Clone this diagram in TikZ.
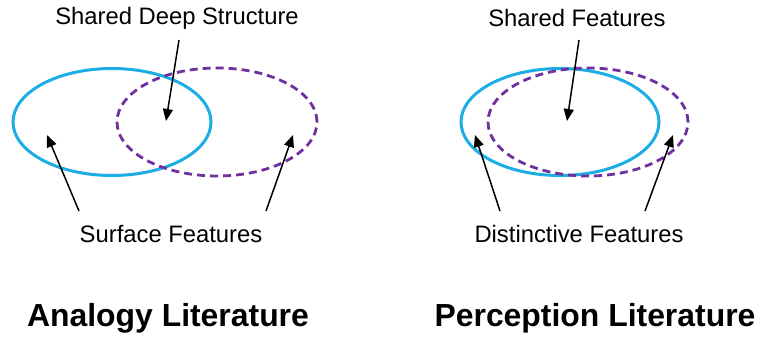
\documentclass[tikz,border=0pt]{standalone}
\usepackage{fontspec}
\setmainfont{Liberation Sans}
\usetikzlibrary{arrows.meta,positioning,shapes.geometric}
\definecolor{setblue}{HTML}{1BADE4}
\definecolor{setpurple}{HTML}{7030A0}

\begin{document}
\begin{tikzpicture}[
  x=1pt,y=-1pt,
  setA/.style={ellipse,draw=setblue,line width=3pt,minimum width=198pt,minimum height=107pt,inner sep=0pt},
  setB/.style={ellipse,draw=setpurple,line width=2.8pt,dash pattern=on 8pt off 5pt,minimum width=200pt,minimum height=108pt,inner sep=0pt},
  lbl/.style={font=\fontsize{23.8}{26}\selectfont,inner sep=0pt},
  title/.style={font=\fontsize{31.9}{35}\selectfont\bfseries,inner sep=0pt},
  arr/.style={-{Triangle[length=12pt,width=10pt]},line width=1.5pt,draw=black}
]
\useasboundingbox (0,0) rectangle (759,337);
% analogy side
\node[setA] (anaA) at (112,122) {};
\node[setB] (anaB) at (217,122) {};
\node[lbl] (deep) at (177,18) {Shared Deep Structure};
\node[lbl] (surface) at (171,234) {Surface Features};
\node[title] (anaT) at (168,318) {Analogy Literature};
\coordinate (deepSt) at (179,40);
\coordinate (deepPt) at (166,121);
\coordinate (surfLSt) at (79,211);
\coordinate (surfL) at (47,135);
\coordinate (surfRSt) at (266,211);
\coordinate (surfR) at (293,135);
\draw[arr] (deepSt) -- (deepPt);
\draw[arr] (surfLSt) -- (surfL);
\draw[arr] (surfRSt) -- (surfR);
% perception side
\node[setA] (perA) at (560,122) {};
\node[setB] (perB) at (588,122) {};
\node[lbl] (shared) at (577,18) {Shared Features};
\node[lbl] (distinct) at (579,234) {Distinctive Features};
\node[title] (perT) at (595,318) {Perception Literature};
\coordinate (sharedSt) at (579,40);
\coordinate (sharedPt) at (567,121);
\coordinate (distLSt) at (500,211);
\coordinate (distL) at (475,135);
\coordinate (distRSt) at (645,211);
\coordinate (distR) at (673,135);
\draw[arr] (sharedSt) -- (sharedPt);
\draw[arr] (distLSt) -- (distL);
\draw[arr] (distRSt) -- (distR);
\end{tikzpicture}
\end{document}
